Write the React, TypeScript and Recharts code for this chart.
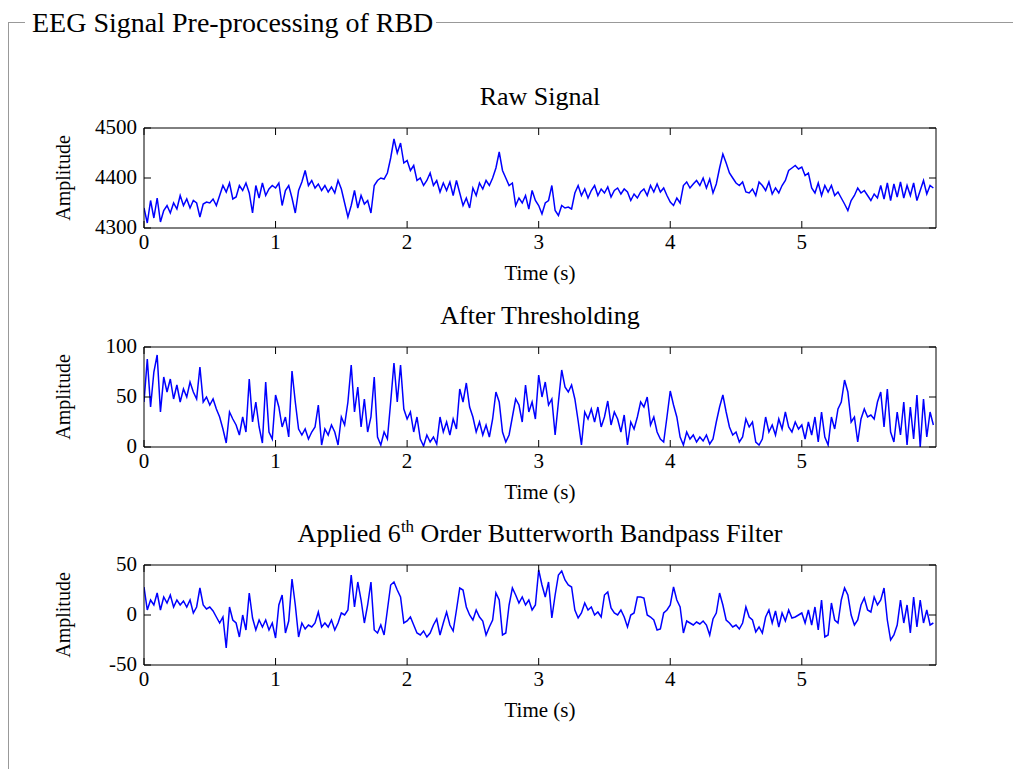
import React from 'react'
import { Line, LineChart, XAxis, YAxis } from 'recharts'

// samples every 25 ms
const SAMPLE_STEP = 0.025
const timeTicks = [0, 1, 2, 3, 4, 5]
const rawTicks = [4300, 4400, 4500]
const thresholdTicks = [0, 50, 100]
const filterTicks = [-50, 0, 50]

const rawSignal = [
  4340, 4310, 4355, 4320, 4360, 4312, 4335, 4345,
  4330, 4350, 4338, 4365, 4345, 4358, 4340, 4355,
  4350, 4322, 4348, 4352, 4350, 4358, 4345, 4365,
  4385, 4372, 4390, 4358, 4362, 4385, 4375, 4390,
  4370, 4330, 4385, 4360, 4390, 4365, 4378, 4385,
  4380, 4390, 4345, 4375, 4385, 4360, 4330, 4375,
  4392, 4415, 4385, 4395, 4380, 4388, 4375, 4385,
  4372, 4382, 4370, 4395, 4378, 4350, 4322, 4345,
  4375, 4340, 4365, 4348, 4355, 4330, 4385, 4395,
  4400, 4398, 4410, 4440, 4478, 4450, 4470, 4430,
  4435, 4415, 4425, 4395, 4400, 4385, 4395, 4410,
  4385, 4395, 4372, 4390, 4375, 4392, 4365, 4395,
  4370, 4345, 4360, 4340, 4380, 4365, 4390, 4378,
  4395, 4385, 4400, 4420, 4452, 4415, 4400, 4385,
  4390, 4345, 4360, 4350, 4365, 4338, 4375, 4355,
  4345, 4328, 4350, 4355, 4385, 4335, 4325, 4345,
  4340, 4342, 4338, 4370, 4385, 4365, 4378, 4360,
  4375, 4385, 4365, 4378, 4370, 4382, 4362, 4375,
  4380, 4368, 4378, 4372, 4355, 4368, 4360, 4372,
  4378, 4365, 4385, 4372, 4388, 4372, 4380, 4365,
  4352, 4345, 4360, 4350, 4385, 4392, 4380, 4388,
  4395, 4385, 4400, 4380, 4398, 4370, 4388, 4420,
  4448, 4430, 4410, 4400, 4390, 4385, 4392, 4372,
  4370, 4378, 4365, 4392, 4385, 4375, 4392, 4368,
  4380, 4370, 4385, 4395, 4415, 4420, 4425, 4418,
  4422, 4405, 4410, 4380, 4370, 4390, 4365, 4385,
  4372, 4385, 4365, 4372, 4360, 4348, 4335, 4355,
  4365, 4380, 4370, 4375, 4365, 4355, 4368, 4360,
  4385, 4358, 4390, 4355, 4388, 4362, 4392, 4360,
  4385, 4365, 4390, 4355, 4375, 4395, 4368, 4385,
  4380,
]

const thresholded = [
  45, 88, 40, 75, 92, 35, 70, 55,
  68, 48, 62, 45, 58, 50, 65, 55,
  48, 80, 45, 50, 42, 48, 38, 30,
  18, 4, 35, 28, 22, 12, 30, 15,
  68, 25, 45, 20, 4, 65, 15, 8,
  52, 40, 20, 30, 10, 76, 45, 18,
  12, 18, 8, 15, 20, 42, 2, 18,
  12, 22, 15, 2, 30, 22, 45, 82,
  35, 60, 20, 48, 15, 30, 70, 10,
  2, 15, 8, 45, 84, 45, 82, 38,
  28, 35, 15, 30, 8, 1, 12, 5,
  10, 3, 30, 15, 25, 12, 28, 18,
  58, 45, 64, 40, 30, 15, 25, 12,
  22, 10, 28, 55, 45, 15, 5, 12,
  30, 48, 42, 25, 62, 35, 45, 28,
  72, 50, 65, 42, 48, 12, 45, 77,
  60, 55, 62, 48, 26, 2, 35, 28,
  38, 25, 40, 20, 30, 46, 22, 35,
  28, 15, 32, 2, 25, 18, 30, 45,
  40, 50, 22, 30, 15, 8, 5, 30,
  56, 42, 30, 10, 2, 15, 8, 12,
  5, 10, 6, 12, 3, 8, 25, 40,
  52, 35, 20, 12, 15, 5, 10, 28,
  20, 25, 5, 2, 8, 30, 15, 22,
  12, 28, 18, 35, 20, 15, 25, 18,
  22, 8, 25, 12, 30, 5, 35, 10,
  2, 30, 18, 38, 45, 67, 55, 25,
  30, 5, 28, 38, 30, 32, 28, 45,
  55, 20, 58, 15, 5, 35, 12, 45,
  2, 40, 8, 52, 0, 48, 10, 35,
  22,
]

const bandpassed = [
  28, 5, 15, 10, 22, 5, 18, 12,
  20, 8, 15, 10, 14, 8, 15, 2,
  8, 27, 10, 6, 8, 4, -2, -8,
  -2, -33, 8, -5, -8, -22, 0, -15,
  22, -3, -15, -5, -12, -5, -15, -8,
  -23, 10, 20, -18, -6, 36, 10, -22,
  -8, -14, -10, -12, -8, 3, -12, -8,
  -12, -5, -15, -8, 2, 0, 5, 40,
  8, 33, 15, -8, 10, 33, -15, -18,
  -10, -20, 5, 30, 33, 25, 18, -8,
  -6, -2, -10, -18, -20, -16, -22, -18,
  -10, -4, -20, -8, 3, -10, -16, 5,
  27, 25, 8, 0, -5, 5, -2, -6,
  -20, -12, -5, 22, 15, -20, -18, 10,
  27, 20, 12, 18, 10, 15, 5, 10,
  45, 30, 18, 33, -3, 20, 40, 44,
  35, 30, 28, 5, -3, 2, 12, 5,
  8, 0, 3, -2, 20, 23, 7, 2,
  0, 5, -2, -12, 0, 2, 18, 18,
  17, 0, -2, -5, -15, -14, 2, 5,
  10, 28, 15, 8, -18, -6, -8, -10,
  -7, -9, -6, -10, -20, -4, 2, 22,
  10, -5, -8, -12, -10, -14, -8, 8,
  -2, -5, -17, -12, -18, -2, 5, -8,
  4, -12, 2, -6, 5, -3, -2, 0,
  2, -8, 5, -10, 8, -15, 15, -22,
  -20, 12, -5, -8, 15, 27, 20, 0,
  -10, -5, 10, 17, 5, 3, 18, 10,
  15, 27, -5, -25, -20, -10, 15, -8,
  10, -18, 18, -12, 15, -8, 5, -10,
  -8,
]

const FONT = '"Liberation Serif", "Times New Roman", serif'
const TICK_LEN = 7
const CHART_W = 1013
const CHART_H = 190
const PLOT_LEFT = 136
const PLOT_W = 792
const PLOT_TOP = 40
const PLOT_H = 100

const toSeries = (values: number[]) =>
  values.map((v, i) => ({ t: Number((i * SAMPLE_STEP).toFixed(3)), v }))

// MATLAB style ticks: short lines pointing into the box, labels only on left/bottom
function BottomTick({ x, y, payload }: any) {
  return (
    <g>
      <line x1={x} y1={y} x2={x} y2={y - TICK_LEN} stroke="#000" />
      <text x={x} y={y + 21} textAnchor="middle" fontSize={21} fontFamily={FONT} fill="#000">
        {payload.value}
      </text>
    </g>
  )
}

function TopTick({ x, y }: any) {
  return <line x1={x} y1={y} x2={x} y2={y + TICK_LEN} stroke="#000" />
}

function LeftTick({ x, y, payload }: any) {
  return (
    <g>
      <line x1={x} y1={y} x2={x + TICK_LEN} y2={y} stroke="#000" />
      <text x={x - 7} y={y + 6} textAnchor="end" fontSize={21} fontFamily={FONT} fill="#000">
        {payload.value}
      </text>
    </g>
  )
}

function RightTick({ x, y }: any) {
  return <line x1={x} y1={y} x2={x - TICK_LEN} y2={y} stroke="#000" />
}

interface PanelProps {
  top: number
  title: React.ReactNode
  values: number[]
  yTicks: number[]
}

function SignalPanel({ top, title, values, yTicks }: PanelProps) {
  const domain: [number, number] = [yTicks[0], yTicks[yTicks.length - 1]]
  return (
    <div style={{ position: 'absolute', left: 0, top, width: CHART_W, height: CHART_H }}>
      <div
        style={{
          position: 'absolute',
          left: PLOT_LEFT,
          width: PLOT_W,
          top: PLOT_TOP - 31 - 15,
          lineHeight: '30px',
          fontSize: 26,
          textAlign: 'center',
          whiteSpace: 'nowrap',
        }}
      >
        {title}
      </div>
      <LineChart
        width={CHART_W}
        height={CHART_H}
        data={toSeries(values)}
        // top axis and right axis each take 1px, so the margins give that back
        margin={{ top: PLOT_TOP - 1, right: CHART_W - PLOT_LEFT - PLOT_W - 1, bottom: 0, left: 0 }}
      >
        <XAxis
          dataKey="t"
          type="number"
          domain={[0, 6.02]}
          allowDataOverflow
          ticks={timeTicks}
          interval={0}
          height={CHART_H - PLOT_TOP - PLOT_H}
          tickSize={0}
          tickMargin={0}
          tickLine={false}
          axisLine={{ stroke: '#000' }}
          tick={<BottomTick />}
        />
        <XAxis
          xAxisId="top"
          orientation="top"
          dataKey="t"
          type="number"
          domain={[0, 6.02]}
          allowDataOverflow
          ticks={timeTicks}
          interval={0}
          height={1}
          tickSize={0}
          tickMargin={0}
          tickLine={false}
          axisLine={{ stroke: '#000' }}
          tick={<TopTick />}
        />
        <YAxis
          type="number"
          domain={domain}
          allowDataOverflow
          ticks={yTicks}
          interval={0}
          width={PLOT_LEFT}
          tickSize={0}
          tickMargin={0}
          tickLine={false}
          axisLine={{ stroke: '#000' }}
          tick={<LeftTick />}
        />
        <YAxis
          yAxisId="right"
          orientation="right"
          type="number"
          domain={domain}
          allowDataOverflow
          ticks={yTicks}
          interval={0}
          width={1}
          tickSize={0}
          tickMargin={0}
          tickLine={false}
          axisLine={{ stroke: '#000' }}
          tick={<RightTick />}
        />
        <Line
          type="linear"
          dataKey="v"
          stroke="#0000ff"
          strokeWidth={1.5}
          dot={false}
          isAnimationActive={false}
        />
      </LineChart>
      <div
        style={{
          position: 'absolute',
          left: PLOT_LEFT,
          width: PLOT_W,
          top: PLOT_TOP + PLOT_H + 45 - 12,
          lineHeight: '24px',
          fontSize: 21,
          textAlign: 'center',
        }}
      >
        Time (s)
      </div>
      <div
        style={{
          position: 'absolute',
          left: 55,
          top: PLOT_TOP + PLOT_H / 2,
          transform: 'translate(-50%, -50%) rotate(-90deg)',
          fontSize: 20,
          lineHeight: '22px',
          whiteSpace: 'nowrap',
        }}
      >
        Amplitude
      </div>
    </div>
  )
}

export default function App() {
  return (
    <div style={{ position: 'relative', width: 1013, height: 761, fontFamily: FONT, color: '#000' }}>
      <div
        style={{
          position: 'absolute',
          left: 0,
          top: 14,
          width: 1013,
          height: 747,
          borderTop: '1px solid #999',
          borderLeft: '1px solid #999',
        }}
      />
      <div
        style={{
          position: 'absolute',
          left: 17,
          top: 0,
          padding: '0 3px 0 7px',
          background: '#fff',
          fontSize: 28,
          lineHeight: '30px',
          whiteSpace: 'nowrap',
        }}
      >
        EEG Signal Pre-processing of RBD
      </div>
      <SignalPanel top={80} title="Raw Signal" values={rawSignal} yTicks={rawTicks} />
      <SignalPanel top={299} title="After Thresholding" values={thresholded} yTicks={thresholdTicks} />
      <SignalPanel
        top={517}
        title={
          <>
            Applied 6<sup style={{ fontSize: 17, lineHeight: 0 }}>th</sup> Order Butterworth Bandpass
            Filter
          </>
        }
        values={bandpassed}
        yTicks={filterTicks}
      />
    </div>
  )
}
